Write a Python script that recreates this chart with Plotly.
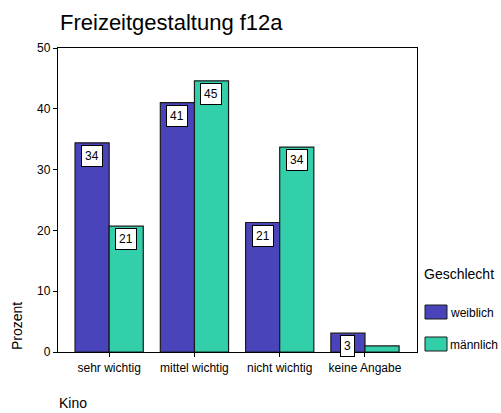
import plotly.graph_objects as go

categories = ['sehr wichtig', 'mittel wichtig', 'nicht wichtig', 'keine Angabe']
weiblich = [34.4, 41.0, 21.3, 3.1]
maennlich = [20.7, 44.6, 33.7, 1.0]
labels_w = ['34', '41', '21', '3']
labels_m = ['21', '45', '34', '']

col_w = '#4a44bb'
col_m = '#33cfab'
font = 'Liberation Sans, Arial, sans-serif'

fig = go.Figure()
fig.add_trace(go.Bar(x=categories, y=weiblich, name='weiblich', offsetgroup='w',
                     marker=dict(color=col_w, line=dict(color='#1a1a1a', width=1.2))))
fig.add_trace(go.Bar(x=categories, y=maennlich, name='männlich', offsetgroup='m',
                     marker=dict(color=col_m, line=dict(color='#1a1a1a', width=1.2))))

# value boxes at the top of each bar
ann = []
for i, cat in enumerate(categories):
    for lab, vals, off in [(labels_w, weiblich, -0.2), (labels_m, maennlich, 0.2)]:
        if lab[i] == '':
            continue
        ann.append(dict(x=i + off, y=vals[i], xref='x', yref='y', text=lab[i],
                        showarrow=False, yanchor='top', yshift=-2,
                        bgcolor='white', bordercolor='black', borderwidth=1,
                        borderpad=3, font=dict(size=12, color='black', family=font)))

W, H = 501, 413
L, R, T, B = 58, 84, 48, 61
pw, ph = W - L - R, H - T - B


def px(x):
    return (x - L) / pw


def py(y):
    return (H - B - y) / ph


texts = [
    ('Freizeitgestaltung f12a', 58, 22, 'left', 'middle', 22, 0),
    ('Kino', 57, 403, 'left', 'middle', 14, 0),
    ('Prozent', 17, 352, 'center', 'bottom', 14, -90),
    ('Geschlecht', 422, 274, 'left', 'middle', 14, 0),
    ('weiblich', 448, 313, 'left', 'middle', 12, 0),
    ('männlich', 448, 345, 'left', 'middle', 12, 0),
]
for t, x, y, xa, ya, sz, ang in texts:
    ann.append(dict(text=t, x=px(x), y=py(y), xref='paper', yref='paper',
                    xanchor=xa, yanchor=ya, showarrow=False, textangle=ang,
                    font=dict(size=sz, color='black', family=font)))

shapes = []
for y0, c in [(305, col_w), (337, col_m)]:
    shapes.append(dict(type='rect', xref='paper', yref='paper',
                       x0=px(425), x1=px(447), y0=py(y0), y1=py(y0 + 14),
                       fillcolor=c, line=dict(color='#1a1a1a', width=1)))

fig.update_layout(
    width=W, height=H,
    margin=dict(l=L, r=R, t=T, b=B, pad=0),
    paper_bgcolor='white', plot_bgcolor='white',
    barmode='group', bargap=0.2, bargroupgap=0,
    showlegend=False,
    annotations=ann, shapes=shapes,
    font=dict(family=font, color='black'),
    xaxis=dict(range=[-0.6, 3.61], showline=True, linecolor='black', linewidth=1.3,
               mirror=True, ticks='outside', ticklen=4, tickcolor='black',
               tickfont=dict(size=12), showgrid=False),
    yaxis=dict(range=[0, 50], dtick=10, showline=True, linecolor='black', linewidth=1.3,
               mirror=True, ticks='outside', ticklen=4, tickcolor='black',
               tickfont=dict(size=12), showgrid=False, zeroline=False),
)

fig.write_html('out.html', config={'displayModeBar': False},
               post_script="document.body.style.margin='0';")
